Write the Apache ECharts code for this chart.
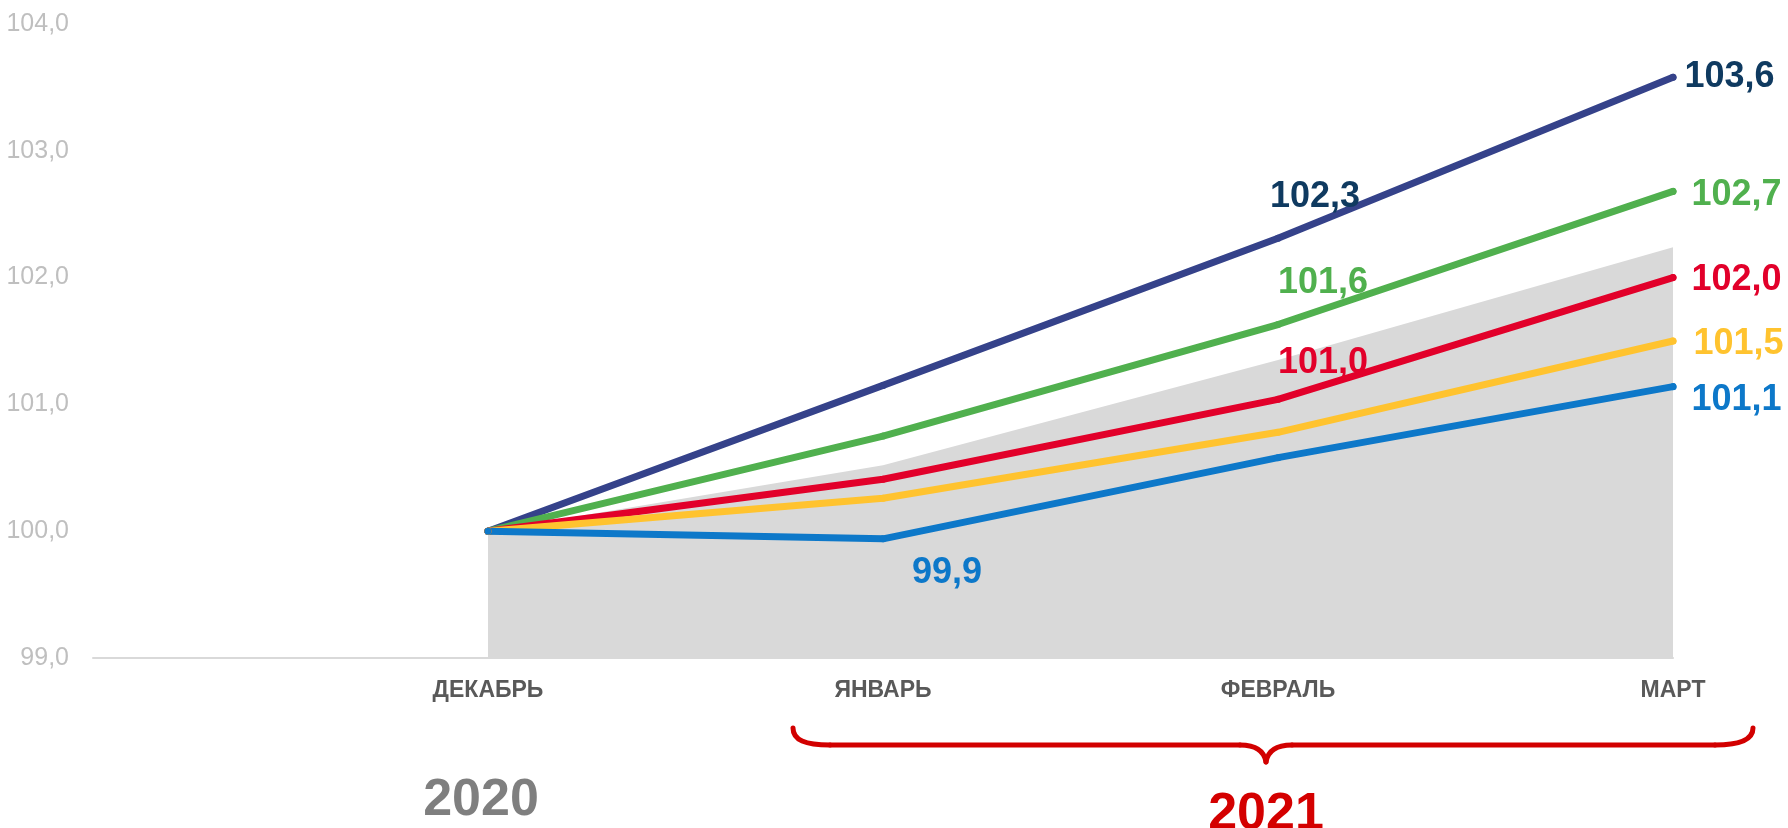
<!DOCTYPE html>
<html>
<head>
<meta charset="utf-8">
<title>Индексы 2020-2021</title>
<script src="https://cdn.jsdelivr.net/npm/echarts@6/dist/echarts.min.js"></script>
<style>
    html, body { margin: 0; padding: 0; background: #fff; }
    #chart { width: 1788px; height: 828px; }
</style>
</head>
<body>
<div id="chart"></div>
<script>
// категории (первая пустая - отступ слева)
var months = ['', 'ДЕКАБРЬ', 'ЯНВАРЬ', 'ФЕВРАЛЬ', 'МАРТ'];
var yTicks = [99, 100, 101, 102, 103, 104];

// значения рядов
var navyData = [null, 100, 101.15, 102.31, 103.58];
var greenData = [null, 100, 100.75, 101.63, 102.68];
var redData = [null, 100, 100.41, 101.04, 102.0];
var yellowData = [null, 100, 100.26, 100.78, 101.5];
var blueData = [null, 100, 99.94, 100.58, 101.14];
var grayData = [null, 100, 100.52, 101.35, 102.24];

(function () {
    var myChart = echarts.init(document.getElementById('chart'));

    var font = '"Liberation Sans", Arial, sans-serif';

    function fmt(v) {
        return v.toFixed(1).replace('.', ',');
    }

    // подписи точек: индекс -> настройки
    function build(values, color, labels) {
        return values.map(function (v, i) {
            if (v === null || !labels[i]) return v;
            var l = labels[i];
            return {
                value: v,
                label: {
                    show: true,
                    position: l.position || 'inside',
                    distance: l.distance || 5,
                    offset: l.offset || [0, 0],
                    color: l.color || color,
                    fontSize: 36,
                    fontWeight: 'bold',
                    fontFamily: font,
                    formatter: function (p) { return fmt(p.value); }
                }
            };
        });
    }

    function line(name, values, color, labels) {
        return {
            name: name,
            type: 'line',
            data: build(values, color, labels),
            symbol: 'circle',
            symbolSize: 7,
            itemStyle: { color: color },
            lineStyle: { color: color, width: 7, cap: 'round', join: 'round' },
            label: { show: false },
            silent: true,
            z: 3
        };
    }

    // скобка под 2021
    var braceStyle = { fill: null, stroke: '#d20000', lineWidth: 5, lineCap: 'round' };
    function curve(x1, y1, c1x, c1y, c2x, c2y, x2, y2) {
        return {
            type: 'bezierCurve',
            shape: { x1: x1, y1: y1, cpx1: c1x, cpy1: c1y, cpx2: c2x, cpy2: c2y, x2: x2, y2: y2 },
            style: braceStyle
        };
    }
    function seg(x1, y1, x2, y2) {
        return { type: 'line', shape: { x1: x1, y1: y1, x2: x2, y2: y2 }, style: braceStyle };
    }

    var option = {
        animation: false,
        grid: {
            left: 93,
            right: 115,
            top: 24,
            bottom: 170,
            containLabel: false
        },
        xAxis: {
            type: 'category',
            boundaryGap: false,
            data: months,
            axisLine: { show: true, lineStyle: { color: '#d9d9d9', width: 2 } },
            axisTick: { show: false },
            axisLabel: {
                color: '#595959',
                fontSize: 23,
                fontWeight: 'bold',
                fontFamily: font,
                margin: 21
            },
            splitLine: { show: false }
        },
        yAxis: {
            type: 'value',
            min: yTicks[0],
            max: yTicks[yTicks.length - 1],
            interval: 1,
            axisLine: { show: false },
            axisTick: { show: false },
            splitLine: { show: false },
            axisLabel: {
                color: '#bfbfbf',
                fontSize: 25,
                fontFamily: font,
                margin: 24,
                formatter: function (v) { return fmt(v); }
            }
        },
        series: [
            {
                name: 'фон',
                type: 'line',
                data: grayData,
                symbol: 'none',
                lineStyle: { width: 0 },
                areaStyle: { color: '#d9d9d9', opacity: 1, origin: 'start' },
                silent: true,
                z: 1
            },
            line('navy', navyData, '#35428a', {
                3: { offset: [37, -41], color: '#0f3a60' },
                4: { position: 'right', distance: 8, color: '#0f3a60' }
            }),
            line('green', greenData, '#50b04e', {
                3: { offset: [45, -41] },
                4: { position: 'right', distance: 15, offset: [0, 4] }
            }),
            line('red', redData, '#e2002a', {
                3: { offset: [45, -36] },
                4: { position: 'right', distance: 15, offset: [0, 2] }
            }),
            line('yellow', yellowData, '#ffc32f', {
                4: { position: 'right', distance: 17, offset: [0, 3] }
            }),
            line('blue', blueData, '#0d78c9', {
                2: { offset: [64, 34] },
                4: { position: 'right', distance: 15, offset: [0, 13] }
            })
        ],
        graphic: [
            {
                type: 'text',
                x: 481,
                y: 801,
                style: {
                    text: '2020',
                    align: 'center',
                    verticalAlign: 'middle',
                    fill: '#7f7f7f',
                    font: 'bold 52px ' + font
                }
            },
            {
                type: 'text',
                x: 1266,
                y: 815,
                style: {
                    text: '2021',
                    align: 'center',
                    verticalAlign: 'middle',
                    fill: '#d40000',
                    font: 'bold 52px ' + font
                }
            },
            curve(793, 728, 793, 740, 805, 745, 830, 745),
            seg(830, 745, 1240, 745),
            curve(1240, 745, 1255, 745, 1264, 750, 1266, 762),
            curve(1266, 762, 1268, 750, 1277, 745, 1292, 745),
            seg(1292, 745, 1715, 745),
            curve(1715, 745, 1740, 745, 1753, 740, 1753, 728)
        ]
    };

    myChart.setOption(option);

    window.addEventListener('resize', function () {
        myChart.resize();
    });
})();
</script>
</body>
</html>
